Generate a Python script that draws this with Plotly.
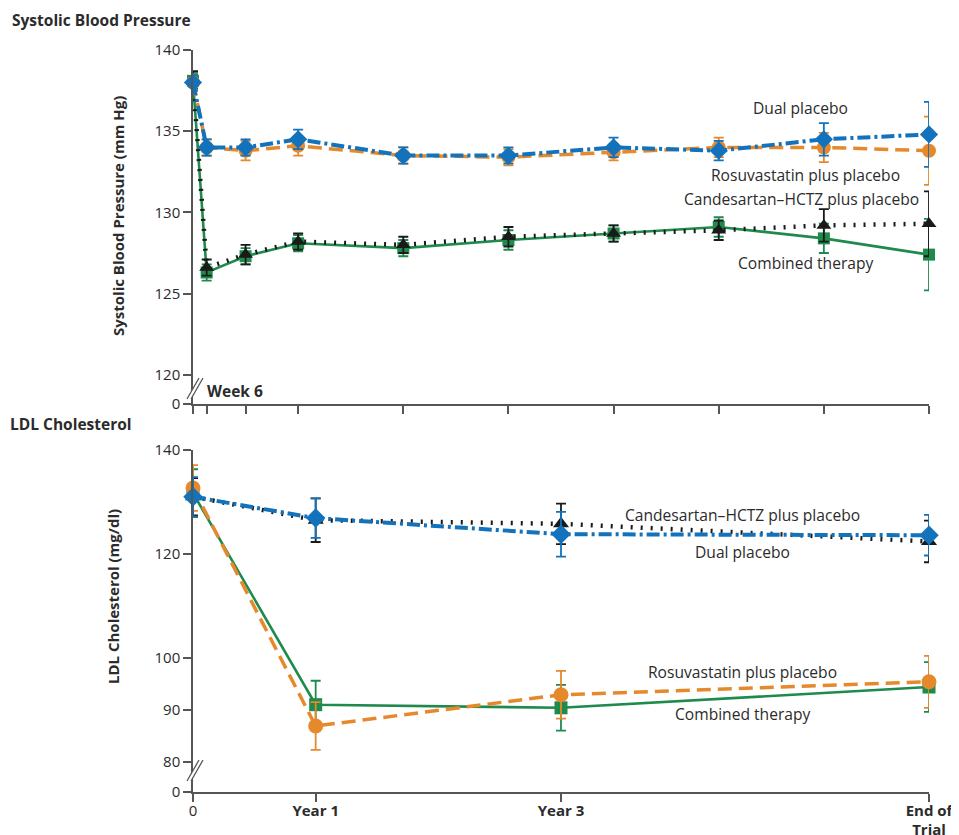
import plotly.graph_objects as go

# ---------------- data ----------------
series_names = ["Combined therapy", "Candesartan\u2013HCTZ plus placebo",
                "Rosuvastatin plus placebo", "Dual placebo"]

# Systolic blood pressure (visit positions on a year-like scale; last = end of trial)
sbp_visit_pos = [0, 0.13, 0.5, 1, 2, 3, 4, 5, 6, 7]
sbp_combined = [138.1, 126.3, 127.3, 128.1, 127.8, 128.3, 128.7, 129.1, 128.4, 127.4]
sbp_combined_err = [0.5, 0.5, 0.5, 0.5, 0.5, 0.6, 0.5, 0.6, 0.9, 2.2]
sbp_candesartan = [138.2, 126.6, 127.4, 128.2, 128.0, 128.5, 128.7, 128.9, 129.2, 129.3]
sbp_candesartan_err = [0.5, 0.5, 0.6, 0.5, 0.5, 0.6, 0.5, 0.6, 1.0, 2.0]
sbp_rosuvastatin = [138.0, 134.0, 133.8, 134.1, 133.5, 133.4, 133.7, 134.0, 134.0, 133.8]
sbp_rosuvastatin_err = [0.5, 0.5, 0.6, 0.6, 0.5, 0.5, 0.5, 0.6, 0.9, 2.1]
sbp_dual = [138.0, 134.0, 134.0, 134.5, 133.5, 133.5, 134.0, 133.8, 134.5, 134.8]
sbp_dual_err = [0.5, 0.5, 0.5, 0.6, 0.5, 0.5, 0.6, 0.6, 1.0, 2.0]
sbp_ytick_vals = [118.2, 120, 125, 130, 135, 140]
sbp_ytick_text = ["0", "120", "125", "130", "135", "140"]

# LDL cholesterol
ldl_visit_pos = [0, 1, 3, 6]
ldl_tick_labels = ["0", "<b>Year 1</b>", "<b>Year 3</b>", "<b>End of<br>Trial</b>"]
ldl_combined = [131.7, 91.0, 90.4, 94.4]
ldl_combined_err = [4.6, 4.6, 4.4, 4.8]
ldl_candesartan = [131.0, 126.5, 125.8, 122.4]
ldl_candesartan_err = [3.6, 4.2, 3.9, 4.0]
ldl_rosuvastatin = [132.7, 86.9, 92.9, 95.4]
ldl_rosuvastatin_err = [4.4, 4.6, 4.6, 5.0]
ldl_dual = [131.0, 126.9, 123.8, 123.6]
ldl_dual_err = [3.8, 3.8, 4.3, 3.9]
ldl_ytick_vals = [74.2, 80, 90, 100, 120, 140]
ldl_ytick_text = ["0", "80", "90", "100", "120", "140"]

# ---------------- layout helpers ----------------
OFF = 8                      # page body margin offset of the figure
W, H = 959 - OFF, 835 - OFF
PLOT_L, PLOT_R, PLOT_T, PLOT_B = 193, 929, 50, 792   # target screen pixels
ML, MR, MT, MB = PLOT_L - OFF, W - (PLOT_R - OFF), PLOT_T - OFF, H - (PLOT_B - OFF)
FONT = "Open Sans"
TXT = "#2b2b2b"
AX = "#555555"


def pxx(x):
    return (x - PLOT_L) / (PLOT_R - PLOT_L)


def pxy(y):
    return (PLOT_B - y) / (PLOT_B - PLOT_T)


styles = {
    "Combined therapy": dict(color="#1e8a4c", dash="solid", width=2.6, symbol="square", size=12),
    "Candesartan\u2013HCTZ plus placebo": dict(color="#1a1a1a", dash="2px,8px", width=4.5, symbol="triangle-up", size=13),
    "Rosuvastatin plus placebo": dict(color="#e6892c", dash="14px,7px", width=3.5, symbol="circle", size=14),
    "Dual placebo": dict(color="#1272bb", dash="13px,4px,3px,4px", width=4.0, symbol="diamond", size=14),
}

fig = go.Figure()

sbp_data = [(sbp_combined, sbp_combined_err), (sbp_candesartan, sbp_candesartan_err),
            (sbp_rosuvastatin, sbp_rosuvastatin_err), (sbp_dual, sbp_dual_err)]
ldl_data = [(ldl_combined, ldl_combined_err), (ldl_candesartan, ldl_candesartan_err),
            (ldl_rosuvastatin, ldl_rosuvastatin_err), (ldl_dual, ldl_dual_err)]

for name, (vals, errs) in zip(series_names, sbp_data):
    s = styles[name]
    fig.add_trace(go.Scatter(
        x=sbp_visit_pos, y=vals, mode="lines+markers", name=name, showlegend=False,
        line=dict(color=s["color"], dash=s["dash"], width=s["width"]),
        marker=dict(symbol=s["symbol"], size=s["size"], color=s["color"]),
        error_y=dict(type="data", array=errs, visible=True, color=s["color"], thickness=1.8, width=5),
        cliponaxis=False, xaxis="x", yaxis="y"))

for name, (vals, errs) in zip(series_names, ldl_data):
    s = styles[name]
    fig.add_trace(go.Scatter(
        x=ldl_visit_pos, y=vals, mode="lines+markers", name=name, showlegend=False,
        line=dict(color=s["color"], dash=s["dash"], width=s["width"]),
        marker=dict(symbol=s["symbol"], size=s["size"] + 1, color=s["color"]),
        error_y=dict(type="data", array=errs, visible=True, color=s["color"], thickness=1.8, width=5),
        cliponaxis=False, xaxis="x2", yaxis="y2"))

axis_common = dict(showline=True, linecolor=AX, linewidth=1.5, ticks="outside",
                   ticklen=8, tickcolor=AX, tickwidth=1.5, showgrid=False, zeroline=False,
                   automargin=False,
                   tickfont=dict(family=FONT, size=15, color=TXT))

fig.update_layout(
    width=W, height=H, autosize=False, margin=dict(l=ML, r=MR, t=MT, b=MB, autoexpand=False),
    paper_bgcolor="white", plot_bgcolor="white",
    font=dict(family=FONT, color=TXT),
    xaxis=dict(domain=[0, 1], range=[0, 7], tickvals=sbp_visit_pos, showticklabels=False,
               anchor="y", **axis_common),
    yaxis=dict(domain=[pxy(404), 1], range=[118.2, 140], tickvals=sbp_ytick_vals,
               ticktext=sbp_ytick_text, anchor="x", **axis_common),
    xaxis2=dict(domain=[0, 1], range=[0, 6], tickvals=ldl_visit_pos, ticktext=ldl_tick_labels,
                anchor="y2", ticklabelstandoff=-4, **axis_common),
    yaxis2=dict(domain=[0, pxy(450)], range=[74.2, 140], tickvals=ldl_ytick_vals,
                ticktext=ldl_ytick_text, anchor="x2", **axis_common),
)

ann = []


def label(text, x, y, size=15.6, bold=False, xanchor="center", angle=0):
    ann.append(dict(text=f"<b>{text}</b>" if bold else text, x=pxx(x), y=pxy(y),
                    xref="paper", yref="paper", showarrow=False, xanchor=xanchor,
                    yanchor="middle", textangle=angle,
                    font=dict(family=FONT, size=size, color=TXT)))


label("Systolic Blood Pressure", 10, 20, size=15.5, bold=True, xanchor="left")
label("LDL Cholesterol", 8, 424, size=15.5, bold=True, xanchor="left")
label("Systolic Blood Pressure (mm Hg)", 118, 216, size=15, bold=True, angle=-90)
label("LDL Cholesterol (mg/dl)", 113, 597, size=15, bold=True, angle=-90)
label("Week 6", 205, 391, size=15.5, bold=True, xanchor="left")

label("Dual placebo", 800, 108)
label("Rosuvastatin plus placebo", 805, 175)
label("Candesartan\u2013HCTZ plus placebo", 801, 199)
label("Combined therapy", 805, 263)

label("Candesartan\u2013HCTZ plus placebo", 742, 515)
label("Dual placebo", 742, 552)
label("Rosuvastatin plus placebo", 742, 672)
label("Combined therapy", 742, 714)

fig.update_layout(annotations=ann)

# axis break marks
shapes = []
for (y0, y1) in [(399, 378), (781, 760)]:
    shapes.append(dict(type="path", xref="paper", yref="paper",
                       path=f"M {pxx(187)} {pxy(y0)} L {pxx(199)} {pxy(y1)} L {pxx(203)} {pxy(y1)} L {pxx(191)} {pxy(y0)} Z",
                       fillcolor="white", line=dict(width=0)))
    for dx in (0, 4):
        shapes.append(dict(type="line", xref="paper", yref="paper",
                           x0=pxx(187 + dx), y0=pxy(y0), x1=pxx(199 + dx), y1=pxy(y1),
                           line=dict(color=AX, width=1.3)))
fig.update_layout(shapes=shapes)

fig.write_html("out.html")
